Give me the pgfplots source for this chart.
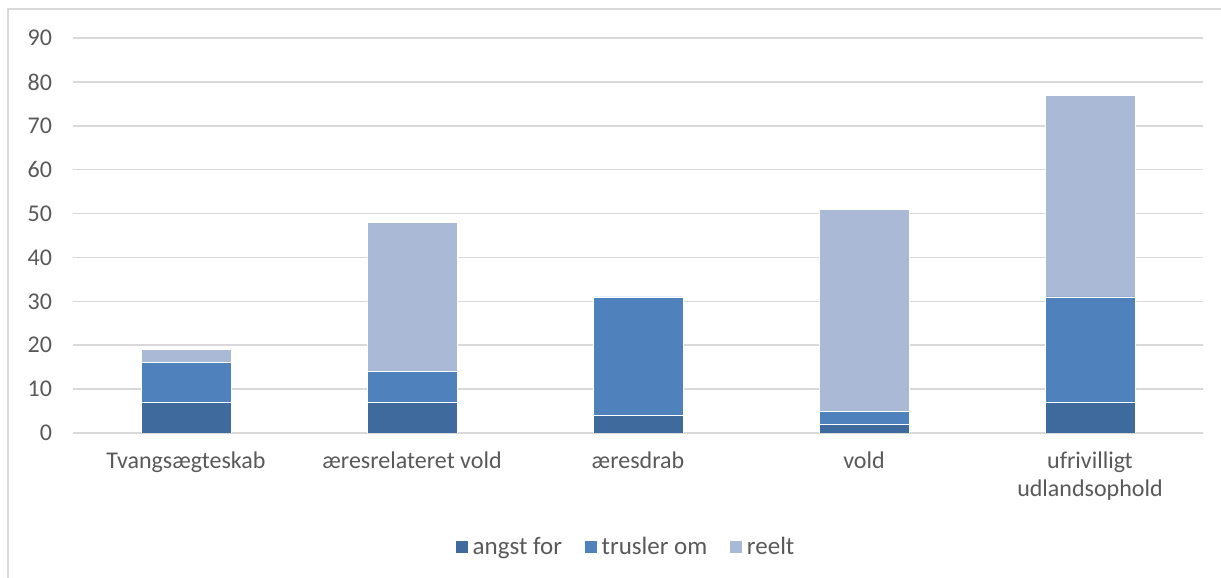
\documentclass[border=0pt]{standalone}
\usepackage{pgfplots}
\pgfplotsset{compat=1.18}
\usepackage{fontspec}
\setmainfont{Carlito}
\definecolor{angst}{RGB}{62,106,158}
\definecolor{trusler}{RGB}{79,129,189}
\definecolor{reelt}{RGB}{169,185,214}
\definecolor{gridgray}{RGB}{217,217,217}
\definecolor{textgray}{RGB}{89,89,89}
\begin{document}
\begin{tikzpicture}
\useasboundingbox (0,0) rectangle (610.5pt,289pt);
\draw[gridgray, line width=0.75pt] (4pt,0) -- (4pt,284.5pt) -- (610.5pt,284.5pt);
\begin{axis}[
  at={(36.5pt,72.5pt)}, anchor=south west,
  scale only axis, width=565pt, height=197.5pt,
  ybar stacked, bar width=45pt,
  xmin=-0.5, xmax=4.5, ymin=0, ymax=90,
  ytick={0,10,...,90},
  xtick={0,1,2,3,4},
  xticklabels={Tvangsægteskab, æresrelateret vold, æresdrab, vold, {ufrivilligt\\udlandsophold}},
  axis line style={draw=none},
  major tick length=0pt,
  ymajorgrids, grid style={gridgray, line width=0.75pt},
  font=\fontsize{12}{14}\selectfont,
  tick label style={text=textgray},
  yticklabel style={xshift=-7pt},
  xticklabel style={align=center, yshift=-6pt},
  /pgf/number format/assume math mode=true,
  legend style={at={(0.49,-0.289)}, anchor=center, draw=none, fill=none,
    legend columns=-1, text=textgray, font=\fontsize{12.5}{14}\selectfont,
    /tikz/every even column/.append style={column sep=9pt}},
  legend image code/.code={\fill[#1] (0pt,-3.25pt) rectangle (6.5pt,3.25pt);},
]
\addplot[fill=angst, draw=white, line width=0.3pt] coordinates {(0,7) (1,7) (2,4) (3,2) (4,7)};
\addplot[fill=trusler, draw=white, line width=0.3pt] coordinates {(0,9) (1,7) (2,27) (3,3) (4,24)};
\addplot[fill=reelt, draw=white, line width=0.3pt] coordinates {(0,3) (1,34) (2,0) (3,46) (4,46)};
\legend{angst for, trusler om, reelt}
\end{axis}
\end{tikzpicture}
\end{document}
